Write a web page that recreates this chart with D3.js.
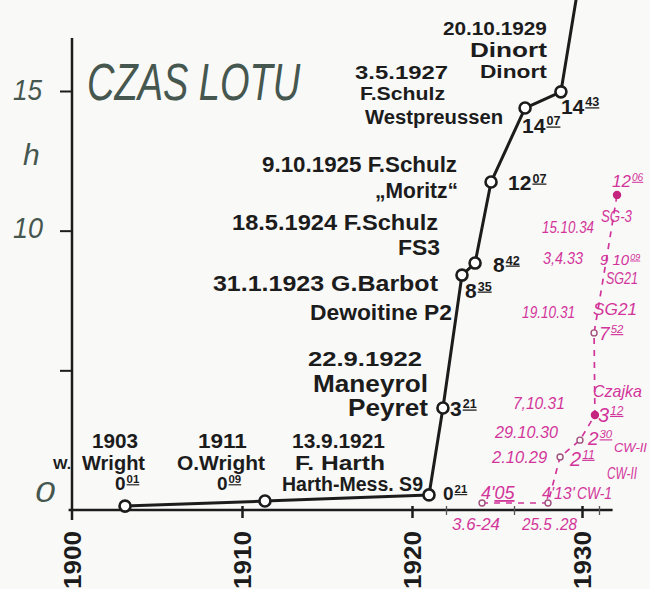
<!DOCTYPE html>
<html>
<head>
<meta charset="utf-8">
<script src="https://cdn.jsdelivr.net/npm/d3@7"></script>
<style>
  body { margin: 0; background: #f9f9f8; }
  svg { display: block; }
  text { font-family: "Liberation Sans", Arial, sans-serif; }
</style>
</head>
<body>
<div id="chart"></div>
<script>
var svgWidth = 650;
var svgHeight = 589;

// Powered records (black line) - the last point is where the line runs off the top of the sheet
var recordYears = [1903.12, 1911.35, 1921.0, 1921.82, 1922.94, 1923.71, 1924.65, 1926.65, 1928.76, 1930.2];
var recordHours = [0.14, 0.32, 0.54, 3.65, 8.41, 8.84, 11.74, 14.39, 14.97, 20.3];
var recordTimes = ["0:01", "0:09", "0:21", "3:21", "8:35", "8:42", "12:07", "14:07", "14:43"];
var recordDates = ["1903", "1911", "13.9.1921", "22.9.1922", "31.1.1923", "18.5.1924", "9.10.1925", "3.5.1927", "20.10.1929"];
var recordPilots = ["Wright", "O.Wright", "F. Harth", "Maneyrol", "G.Barbot", "F.Schulz", "F.Schulz", "F.Schulz", "Dinort"];
var recordPlanes = ["", "", "Harth-Mess. S9", "Peyret", "Dewoitine P2", "FS3", "\u201eMoritz\u201c", "Westpreussen", "Dinort"];

// Glider records (magenta dashed line)
var gliderYears = [1924.12, 1928.0, 1928.71, 1929.88, 1930.76, 1930.71, 1931.41, 1932.06];
var gliderHours = [0.25, 0.25, 1.9, 2.5, 3.4, 6.34, 8.88, 11.28];
var gliderTimes = ["4'05", "4'13'", "2:11", "2:30", "3:12", "7:52", "9 10:09", "12:06"];
var gliderDates = ["3.6-24", "25.5 .28", "2.10.29", "29.10.30", "7,10.31", "19.10.31", "3,4.33", "15.10.34"];
var gliderNames = ["", "CW-1", "CW-II", "CW-II", "Czajka", "SG21", "SG21", "SG-3"];
var gliderMarks = ["open", "open", "open", "open", "dot", "open", "none", "dot"];

// axes
var yearTicks = [1900, 1910, 1920, 1930];
var minorYearTicks = [1922, 1926, 1931];
var hourTicks = [5, 10, 15];
var hourLabels = ["0", "10", "15"];

var ink = "#1c1c1c";
var pink = "#d2359a";
var slate = "#46574f";

var svg = d3.select("#chart")
  .append("svg")
  .attr("width", svgWidth)
  .attr("height", svgHeight);

var x = d3.scaleLinear().domain([1900, 1930]).range([72, 582]);
var y = d3.scaleLinear().domain([0, 15]).range([510, 91]);

// title (tall narrow hand lettering) and unit
svg.append("text")
  .attr("transform", "translate(87, 100) scale(1, 1.35)")
  .attr("fill", slate)
  .style("font-size", "38px")
  .style("font-style", "italic")
  .text("CZAS LOTU");

svg.append("text")
  .attr("x", x(1900) - 49).attr("y", y(12.35))
  .attr("fill", slate)
  .style("font-size", "30px")
  .style("font-style", "italic")
  .text("h");

// axis lines
svg.append("line")
  .attr("x1", x(1900)).attr("x2", x(1900))
  .attr("y1", y(-0.36)).attr("y2", y(16.9))
  .attr("stroke", ink).attr("stroke-width", 2.5);

svg.append("line")
  .attr("x1", x(1899.8)).attr("x2", x(1931.8))
  .attr("y1", y(0)).attr("y2", y(0))
  .attr("stroke", ink).attr("stroke-width", 2.5);

// y ticks
var leftAxis = d3.axisLeft(y).tickValues(hourTicks).tickSize(13).tickFormat("");
var yAxis = svg.append("g")
  .attr("transform", `translate(${x(1900) + 1}, 0)`)
  .call(leftAxis);
yAxis.select(".domain").remove();
yAxis.selectAll("line").attr("stroke", ink).attr("stroke-width", 2);

// y labels (hand-placed next to ticks)
var hourLabelPos = [[-37, -8, 20], [-59, 7, 30], [-59, 9, 29]];
svg.selectAll(".hourLabel")
  .data(hourLabels)
  .enter()
  .append("text")
  .attr("class", "hourLabel")
  .attr("x", (d, i) => x(1900) + hourLabelPos[i][0])
  .attr("y", d => y(+d))
  .attr("dy", (d, i) => hourLabelPos[i][1])
  .attr("fill", slate)
  .style("font-size", "30px")
  .style("font-style", "italic")
  .attr("textLength", (d, i) => hourLabelPos[i][2])
  .attr("lengthAdjust", "spacingAndGlyphs")
  .text(d => d);

// x ticks
var bottomAxis = d3.axisBottom(x).tickValues(yearTicks.slice(1)).tickSize(12).tickFormat("");
var xAxis = svg.append("g")
  .attr("transform", `translate(0, ${y(0) - 4})`)
  .call(bottomAxis);
xAxis.select(".domain").remove();
xAxis.selectAll("line").attr("stroke", ink).attr("stroke-width", 2.5);

var minorAxis = d3.axisBottom(x).tickValues(minorYearTicks).tickSize(9).tickFormat("");
var xMinor = svg.append("g")
  .attr("transform", `translate(0, ${y(0) - 4})`)
  .call(minorAxis);
xMinor.select(".domain").remove();
xMinor.selectAll("line").attr("stroke", "#555").attr("stroke-width", 1.3);

// rotated year labels
svg.selectAll(".yearLabel")
  .data(yearTicks)
  .enter()
  .append("text")
  .attr("class", "yearLabel")
  .attr("transform", d => `translate(${x(d)}, 531) rotate(-90)`)
  .attr("text-anchor", "end")
  .attr("dy", "0.36em")
  .attr("fill", ink)
  .style("font-size", "24px")
  .style("font-weight", "bold")
  .attr("textLength", 58)
  .attr("lengthAdjust", "spacingAndGlyphs")
  .text(d => d);

// ---- powered records ----
var records = recordYears.map((yr, i) => ({ year: yr, hours: recordHours[i] }));

var lineGen = d3.line()
  .x(d => x(d.year))
  .y(d => y(d.hours));

svg.append("path")
  .datum(records)
  .attr("d", lineGen)
  .attr("fill", "none")
  .attr("stroke", ink)
  .attr("stroke-width", 3)
  .attr("stroke-linejoin", "round");

svg.selectAll(".rec")
  .data(records.slice(0, recordTimes.length))
  .enter()
  .append("circle")
  .attr("class", "rec")
  .attr("cx", d => x(d.year))
  .attr("cy", d => y(d.hours))
  .attr("r", 5.5)
  .attr("fill", "#fff")
  .attr("stroke", ink)
  .attr("stroke-width", 2.6);

// duration written as hours with underlined raised minutes
function timeLabel(px, py, str, size, color) {
  var t = svg.append("text")
    .attr("x", px).attr("y", py)
    .attr("fill", color)
    .style("font-size", size + "px");
  if (color === ink) t.style("font-weight", "bold");
  else t.style("font-style", "italic");

  if (str.indexOf(":") >= 0) {
    var p = str.split(":");
    t.append("tspan").text(p[0]);
    t.append("tspan")
      .attr("dx", 1)
      .attr("dy", -size * 0.36)
      .style("font-size", (size * 0.6) + "px")
      .style("text-decoration", "underline")
      .text(p[1]);
  } else if (str.slice(-1) !== "'") {
    var q = str.split("'");
    t.append("tspan").text(q[0] + "'");
    t.append("tspan").style("text-decoration", "underline").text(q[1]);
  } else {
    t.text(str);
  }
}

// [record index, text, dx, dy, width, font size]
var recordNotes = [
  [0, recordDates[0], -33, -58, 46, 21],
  [0, "W.", -72, -37, 18, 15],
  [0, recordPilots[0], -43, -36, 63, 21],
  [1, recordDates[1], -67, -53, 49, 21],
  [1, recordPilots[1], -88, -31, 88, 21],
  [2, recordDates[2], -137, -47, 93, 20],
  [2, recordPilots[2], -134, -25, 90, 20],
  [2, recordPlanes[2], -147, -4, 141, 20],
  [3, recordDates[3], -135, -42, 114, 21],
  [3, recordPilots[3], -130, -16, 115, 23],
  [3, recordPlanes[3], -95, 8, 80, 23],
  [4, recordDates[4] + " " + recordPilots[4], -249, 16, 225, 22],
  [4, recordPlanes[4], -152, 45, 142, 22],
  [5, recordDates[5] + " " + recordPilots[5], -243, -33, 206, 22],
  [5, recordPlanes[5], -77, -8, 42, 22],
  [6, recordDates[6] + " " + recordPilots[6], -229, -10, 195, 22],
  [6, recordPlanes[6], -116, 16, 83, 22],
  [7, recordDates[7], -170, -29, 93, 19],
  [7, recordPilots[7], -165, -8, 85, 19],
  [7, recordPlanes[7], -160, 16, 138, 20],
  [8, recordDates[8], -118, -57, 104, 19],
  [8, recordPilots[8], -91, -35, 77, 20],
  [8, recordPlanes[8], -81, -14, 67, 19]
];

recordNotes.forEach(function(n) {
  var d = records[n[0]];
  svg.append("text")
    .attr("x", x(d.year) + n[2])
    .attr("y", y(d.hours) + n[3])
    .attr("fill", ink)
    .style("font-size", n[5] + "px")
    .style("font-weight", "bold")
    .attr("textLength", n[4])
    .attr("lengthAdjust", "spacingAndGlyphs")
    .text(n[1]);
});

var recordTimePos = [[-10, -16], [-48, -11], [14, 5], [7, 8], [3, 23], [18, 9], [17, 8], [-3, 25], [0, 22]];
recordTimes.forEach(function(s, i) {
  var d = records[i];
  var sz = i < 3 ? 19 : 21;
  timeLabel(x(d.year) + recordTimePos[i][0], y(d.hours) + recordTimePos[i][1], s, sz, ink);
});

// ---- glider records ----
var gliders = gliderYears.map((yr, i) => ({ year: yr, hours: gliderHours[i], mark: gliderMarks[i] }));

svg.append("path")
  .datum(gliders)
  .attr("d", lineGen)
  .attr("fill", "none")
  .attr("stroke", pink)
  .attr("stroke-width", 1.7)
  .attr("stroke-dasharray", "6,6");

svg.selectAll(".gli")
  .data(gliders.filter(d => d.mark !== "none"))
  .enter()
  .append("circle")
  .attr("class", "gli")
  .attr("cx", d => x(d.year))
  .attr("cy", d => y(d.hours))
  .attr("r", d => d.mark === "dot" ? 3.5 : 3)
  .attr("fill", d => d.mark === "dot" ? "#c4257f" : "#f9f9f8")
  .attr("stroke", d => d.mark === "dot" ? "#c4257f" : "#a0507c")
  .attr("stroke-width", 1.4);

// [glider index, text, dx, dy, width, font size]
var gliderNotes = [
  [0, gliderDates[0], -30, 27, 48, 17],
  [1, gliderDates[1], -26, 27, 55, 17],
  [1, gliderNames[1], 29, -4, 35, 17],
  [2, gliderDates[2], -68, 6, 55, 17],
  [2, gliderNames[2], 47, 22, 30, 17],
  [3, gliderDates[3], -85, -2, 63, 17],
  [3, gliderNames[3], 34, 12, 33, 13],
  [4, gliderDates[4], -82, -6, 52, 17],
  [4, gliderNames[4], -2, -18, 49, 17],
  [5, gliderDates[5], -72, -15, 53, 17],
  [5, gliderNames[5], -1, -18, 44, 17],
  [6, gliderDates[6], -63, 2, 40, 17],
  [6, gliderNames[6], 0, 22, 32, 17],
  [7, gliderDates[7], -75, 38, 52, 17],
  [7, gliderNames[7], -16, 27, 31, 17]
];

gliderNotes.forEach(function(n) {
  var d = gliders[n[0]];
  svg.append("text")
    .attr("x", x(d.year) + n[2])
    .attr("y", y(d.hours) + n[3])
    .attr("fill", pink)
    .style("font-size", n[5] + "px")
    .style("font-style", "italic")
    .attr("textLength", n[4])
    .attr("lengthAdjust", "spacingAndGlyphs")
    .text(n[1]);
});

var gliderTimePos = [[-1, -4, 18], [-6, -4, 16], [10, 9, 20], [8, 5, 19], [3, 7, 20], [5, 7, 19], [-6, 3, 15], [-5, -8, 17]];
gliderTimes.forEach(function(s, i) {
  var d = gliders[i];
  timeLabel(x(d.year) + gliderTimePos[i][0], y(d.hours) + gliderTimePos[i][1], s, gliderTimePos[i][2], pink);
});
</script>
</body>
</html>
